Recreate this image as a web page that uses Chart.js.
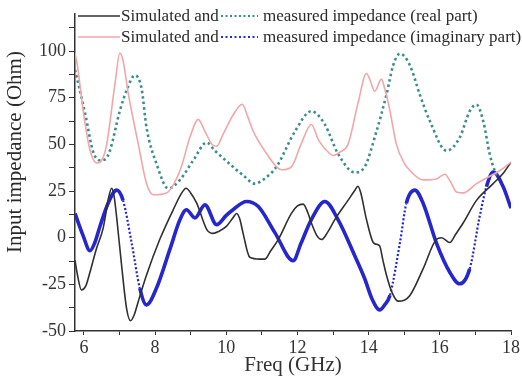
<!DOCTYPE html>
<html>
<head>
<meta charset="utf-8">
<script src="https://cdn.jsdelivr.net/npm/chart.js@4/dist/chart.umd.min.js"></script>
<style>
  html, body { margin: 0; padding: 0; background: #fff; }
  #wrap { width: 522px; height: 385px; position: relative; }
</style>
</head>
<body>
<div id="wrap"><canvas id="cv" width="522" height="385"></canvas></div>
<script>
// simulated real part (black)
const simRealX = [5.75,5.82,5.93,6.05,6.17,6.35,6.54,6.7,6.78,6.85,6.92,7.06,7.2,7.31,7.42,7.53,7.76,8.13,8.51,8.75,8.87,9.0,9.17,9.45,9.63,9.8,10.01,10.2,10.29,10.38,10.47,10.66,10.94,11.08,11.25,11.46,11.83,12.0,12.16,12.3,12.39,12.55,12.68,12.85,13.05,13.42,13.6,13.7,13.78,13.94,14.13,14.22,14.31,14.4,14.5,14.65,14.83,15.0,15.16,15.53,15.9,16.05,16.28,16.45,16.66,17.03,17.5,17.8,18.0];
const simRealY = [-12,-20,-28,-26,-18.5,-6,5,22,26.5,22,11,-15,-38,-44.5,-41,-34,-20,-1,15,24,26.5,24,18.5,4.5,2.3,3.5,6.2,11,13,10,2.6,-10.5,-11.5,-11.5,-7,-1,13,17,18,13,8,1,-1,3,9.7,20,25,27.6,24,9.7,-2.6,-3.5,-4.4,-12,-20,-29,-34,-33.5,-31,-16.7,-1,0,-2.6,2,8,20,29,35,40.5];

// measured real part (teal dotted)
const measRealX = [5.75,5.85,6.04,6.26,6.45,6.6,6.73,7.01,7.22,7.43,7.62,7.76,8.04,8.37,8.7,9.07,9.45,9.68,10.19,10.5,10.8,11.1,11.41,11.93,12.39,12.77,13.14,13.61,13.89,14.22,14.5,14.69,14.88,15.16,15.44,15.72,16.19,16.56,16.84,17.03,17.22,17.4,17.54,17.6];
const measRealY = [90,82,66,46,41.5,42,46.6,68,80,87,80,59,39.6,26.4,31,41.4,51,46.6,38,33,29,32,38,57,67.8,60.7,45,35,38,57,76.6,92.4,98.6,92.4,76.6,62.5,46.6,53.7,67.8,71.3,62.5,45,36,33];

// simulated imaginary part (pink)
const simImagX = [5.75,5.82,5.98,6.17,6.36,6.5,6.64,6.87,7.01,7.1,7.25,7.53,7.76,7.95,8.32,8.7,9.0,9.21,9.4,9.6,9.73,9.9,10.2,10.45,10.6,10.76,11.1,11.41,11.55,11.83,12.1,12.39,12.6,12.91,13.0,13.2,13.42,13.7,13.94,14.05,14.17,14.36,14.45,14.6,14.78,15.0,15.16,15.53,15.9,16.14,16.3,16.47,16.66,17.03,17.69,18.0];
const simImagY = [99,92,68,47,40,41.5,50,82,99,95,77,50,29,23,24,36,55,63.4,57,50,49,55,66,71.5,65,57,46,38,36.4,38,50,60.7,52,45,44,46,50,72,88,84,78.5,85,80,68,50,40,36,31,31.5,34,30,24.5,24,29,36,40.5];

// measured imaginary part (blue)
const measImagX = [5.75,5.98,6.17,6.3,6.45,6.68,6.92,7.1,7.34,7.57,7.76,8.04,8.42,8.7,8.88,9.12,9.4,9.73,10.0,10.19,10.57,10.9,11.37,11.88,12.1,12.39,12.77,13.14,13.61,13.89,14.1,14.31,14.45,14.6,14.88,15.06,15.3,15.53,15.9,16.28,16.56,16.84,17.12,17.31,17.5,17.78,18.0];
const measImagY = [13,1,-7,-3,6,18.5,25.5,20,-2.6,-27,-36,-27,-6,9.7,15,10.6,17.6,7,12,15,19.4,16.7,2.6,-12.3,-3,9.7,19.4,9.7,-9.7,-22,-33,-38.7,-36,-30.8,-2.6,18.5,25.5,18.5,-2.6,-18.5,-24.7,-16.7,11.4,27.3,35.2,27.3,15.8];

const xTicks = [6, 8, 10, 12, 14, 16, 18];
const yTicks = [-50, -25, 0, 25, 50, 75, 100];

const pts = (xs, ys) => xs.map((x, i) => ({ x, y: ys[i] }));

const serif = '"Liberation Serif", "Times New Roman", serif';
const axisColor = '#333';

// legend and y title drawn on top
const overlay = {
  id: 'overlay',
  afterDraw(chart){
    const c = chart.ctx;
    c.save();
    c.font = '17px ' + serif;
    c.fillStyle = '#2a2a2a';
    c.textBaseline = 'middle';
    const rows = [
      { y: 16, sim: '#303030', meas: '#3c8c8c', text: 'measured impedance (real part)' },
      { y: 37, sim: '#f2a6ac', meas: '#2a2ad8', text: 'measured impedance (imaginary part)' }
    ];
    rows.forEach(r => {
      c.setLineDash([]);
      c.lineWidth = 1.6;
      c.strokeStyle = r.sim;
      c.beginPath(); c.moveTo(78, r.y); c.lineTo(120, r.y); c.stroke();
      c.fillText('Simulated and', 121, r.y + 1);
      c.setLineDash([2, 2.5]);
      c.lineWidth = 2.2;
      c.strokeStyle = r.meas;
      c.beginPath(); c.moveTo(221, r.y); c.lineTo(258, r.y); c.stroke();
      c.fillText(r.text, 263, r.y + 1);
    });
    c.setLineDash([]);
    // y axis title
    c.font = '21px ' + serif;
    c.textAlign = 'center';
    c.translate(15, 152);
    c.rotate(-Math.PI / 2);
    c.fillText('Input impedance (Ohm)', 0, 0);
    c.restore();
  }
};

function stepTicks(lo, hi, step){
  const out = [];
  for (let v = lo; v <= hi + 1e-9; v += step) out.push({ value: v });
  return out;
}

new Chart(document.getElementById('cv'), {
  type: 'line',
  data: {
    datasets: [
      {
        label: 'Simulated (imag)',
        data: pts(simImagX, simImagY),
        borderColor: '#f2a6ac',
        borderWidth: 1.6,
        pointRadius: 0,
        cubicInterpolationMode: 'monotone'
      },
      {
        label: 'Measured (real)',
        data: pts(measRealX, measRealY),
        borderColor: '#3c8c8c',
        borderWidth: 2.6,
        borderDash: [2.5, 3],
        pointRadius: 0,
        cubicInterpolationMode: 'monotone'
      },
      {
        label: 'Simulated (real)',
        data: pts(simRealX, simRealY),
        borderColor: '#303030',
        borderWidth: 1.6,
        pointRadius: 0,
        cubicInterpolationMode: 'monotone'
      },
      {
        label: 'Measured (imag)',
        data: pts(measImagX, measImagY),
        borderColor: '#2626d0',
        borderWidth: 3.6,
        pointRadius: 0,
        cubicInterpolationMode: 'monotone',
        segment: {
          // steep parts of the measured curve show up as loose dots
          borderDash: ctx => {
            const dx = Math.abs(ctx.p1.x - ctx.p0.x), dy = Math.abs(ctx.p1.y - ctx.p0.y);
            return dy > 4 * dx ? [2, 2] : undefined;
          },
          borderWidth: ctx => {
            const dx = Math.abs(ctx.p1.x - ctx.p0.x), dy = Math.abs(ctx.p1.y - ctx.p0.y);
            return dy > 4 * dx ? 2.2 : undefined;
          }
        }
      }
    ]
  },
  options: {
    responsive: false,
    animation: false,
    layout: { padding: { top: 8, right: 11, left: 0, bottom: 0 } },
    plugins: { legend: { display: false }, tooltip: { enabled: false } },
    scales: {
      x: {
        type: 'linear',
        min: 5.75,
        max: 18,
        afterFit: s => { s.height = 54; },
        afterBuildTicks: s => { s.ticks = stepTicks(6, 18, 1); },
        border: { display: true, color: axisColor, width: 1.5 },
        grid: { drawOnChartArea: false, color: axisColor, tickLength: 4 },
        ticks: {
          autoSkip: false,
          maxRotation: 0,
          padding: 2,
          color: '#333',
          font: { family: serif, size: 18 },
          callback: v => xTicks.includes(v) ? v : ''
        },
        title: {
          display: true,
          text: 'Freq (GHz)',
          color: '#333',
          font: { family: serif, size: 21 },
          padding: { top: 0, bottom: 7 }
        }
      },
      y: {
        min: -50,
        max: 120,
        afterFit: s => { s.width = 75; },
        afterBuildTicks: s => { s.ticks = stepTicks(-50, 112.5, 12.5); },
        border: { display: true, color: axisColor, width: 1.5 },
        grid: { drawOnChartArea: false, color: axisColor, tickLength: 6 },
        ticks: {
          autoSkip: false,
          padding: 3,
          color: '#333',
          font: { family: serif, size: 18 },
          callback: v => yTicks.includes(v) ? v : ''
        }
      }
    }
  },
  plugins: [overlay]
});
</script>
</body>
</html>
